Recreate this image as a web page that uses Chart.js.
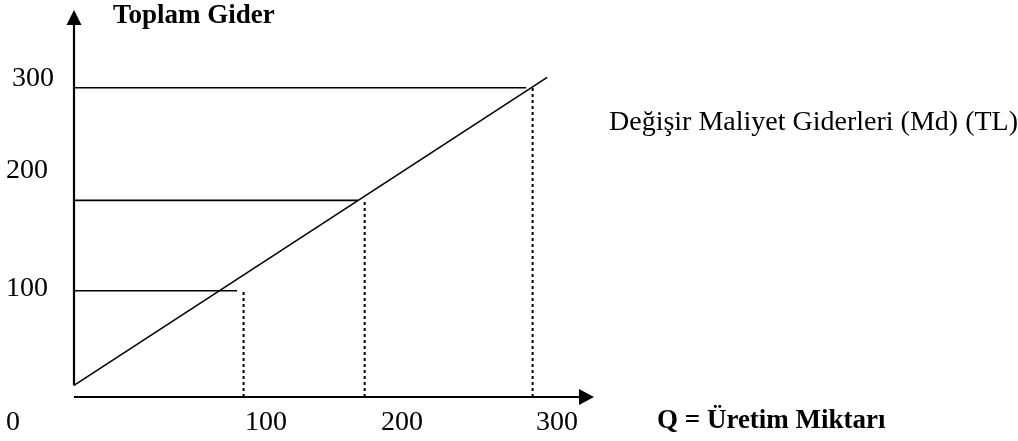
<!DOCTYPE html>
<html>
<head>
<meta charset="utf-8">
<script src="https://cdn.jsdelivr.net/npm/chart.js@4.4.1/dist/chart.umd.min.js"></script>
<style>
  html, body { margin: 0; padding: 0; background: #ffffff; }
  #c { display: block; }
</style>
</head>
<body>
<canvas id="c" width="1018" height="441"></canvas>
<script>
// ---- data (schematic values) ----
const costLevels   = [101, 187, 294];   // Toplam Gider levels of the horizontal guide lines
const guideEndQ    = [101, 176, 280];   // where each horizontal guide line ends (Q)
const dropQ        = [105, 180, 284];   // Q of the dotted drop lines
const mdLineQ      = [0, 293];          // variable cost line, Q
const mdLineCost   = [11, 304];         // variable cost line, cost
const yTickValues  = [300, 200, 100];
const yTickLabels  = ['300', '200', '100'];
const xTickLabels  = ['0', '100', '200', '300'];
const yAxisTitle   = 'Toplam Gider';
const xAxisTitle   = 'Q = Üretim Miktarı';
const seriesLabel  = 'Değişir Maliyet Giderleri (Md) (TL)';

const SERIF = '"Liberation Serif", "Times New Roman", "DejaVu Serif", serif';

const datasets = [];
datasets.push({
  label: seriesLabel,
  data: mdLineQ.map((q, i) => ({ x: q, y: mdLineCost[i] })),
  borderColor: '#000', borderWidth: 1.6, pointRadius: 0, showLine: true, clip: false
});
costLevels.forEach((c, i) => {
  datasets.push({
    label: 'guide' + i,
    data: [{ x: 0, y: c }, { x: guideEndQ[i], y: c }],
    borderColor: '#000', borderWidth: 1.6, pointRadius: 0, showLine: true, clip: false
  });
  datasets.push({
    label: 'drop' + i,
    data: [{ x: dropQ[i], y: 0 }, { x: dropQ[i], y: c }],
    borderColor: '#000', borderWidth: 2, borderDash: [3, 3], pointRadius: 0, showLine: true, clip: false
  });
});

const decor = {
  id: 'decor',
  afterDatasetsDraw(chart) {
    const ctx = chart.ctx;
    const a = chart.chartArea;
    const xs = chart.scales.x, ys = chart.scales.y;
    ctx.save();
    ctx.strokeStyle = '#000';
    ctx.fillStyle = '#000';
    // y axis (starts where the Md line starts)
    const yStart = ys.getPixelForValue(mdLineCost[0]);
    ctx.lineWidth = 2.2;
    ctx.beginPath();
    ctx.moveTo(a.left, yStart);
    ctx.lineTo(a.left, a.top + 14);
    ctx.stroke();
    ctx.beginPath();
    ctx.moveTo(a.left, a.top);
    ctx.lineTo(a.left - 7.5, a.top + 15);
    ctx.lineTo(a.left + 7.5, a.top + 15);
    ctx.closePath();
    ctx.fill();
    // x axis
    ctx.beginPath();
    ctx.moveTo(a.left, a.bottom);
    ctx.lineTo(a.right - 14, a.bottom);
    ctx.stroke();
    ctx.beginPath();
    ctx.moveTo(a.right, a.bottom);
    ctx.lineTo(a.right - 15, a.bottom - 8);
    ctx.lineTo(a.right - 15, a.bottom + 8);
    ctx.closePath();
    ctx.fill();

    // texts
    ctx.textBaseline = 'alphabetic';
    ctx.textAlign = 'left';
    ctx.font = '28px ' + SERIF;
    const yLabelX = [12, 6, 6];
    const yLabelDy = [4, -9, 4];
    yTickValues.forEach((v, i) => {
      ctx.fillText(yTickLabels[i], yLabelX[i], ys.getPixelForValue(v) + yLabelDy[i]);
    });
    const xLabelX = [6, 245, 381, 536];
    xTickLabels.forEach((t, i) => ctx.fillText(t, xLabelX[i], 430));
    ctx.fillText(seriesLabel, 609, 130);
    ctx.font = 'bold 27px ' + SERIF;
    ctx.fillText(yAxisTitle, 113, 23);
    ctx.fillText(xAxisTitle, 657, 428);
    ctx.restore();
  }
};

new Chart(document.getElementById('c'), {
  type: 'scatter',
  data: { datasets },
  options: {
    responsive: false,
    animation: false,
    events: [],
    layout: { padding: { left: 74, right: 424, top: 10, bottom: 44 } },
    plugins: { legend: { display: false }, tooltip: { enabled: false } },
    scales: {
      x: { type: 'linear', min: 0, max: 322, display: false },
      y: { type: 'linear', min: 0, max: 368, display: false }
    }
  },
  plugins: [decor]
});
</script>
</body>
</html>
